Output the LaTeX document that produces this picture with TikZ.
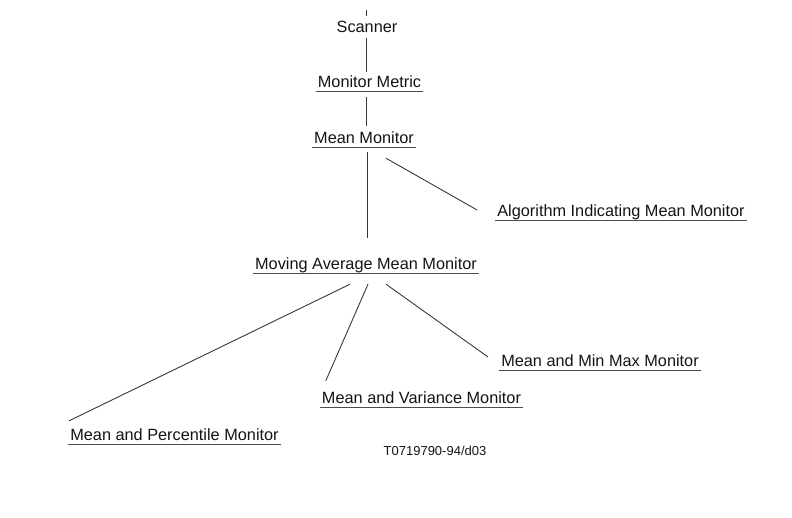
\documentclass[tikz,border=0pt]{standalone}
\usepackage{fontspec}
\setmainfont{Liberation Sans}
\usetikzlibrary{calc}
\begin{document}
\begin{tikzpicture}[x=1pt,y=-1pt,
  lbl/.style={font=\fontsize{16.3}{18}\selectfont, text=black!92, inner xsep=2pt, inner ysep=4pt, text height=12pt, text depth=0pt, anchor=base},
  ulline/.style={draw=black!70, line width=0.9pt},
  ul/.style={lbl, append after command={(\tikzlastnode.south west) edge[ulline] (\tikzlastnode.south east)}},
  conn/.style={draw=black!78, line width=0.9pt},
]
\useasboundingbox (0,0) rectangle (792,517);
\node[lbl] (scanner) at (367,32) {Scanner};
\node[ul] (metric) at (369.5,87) {Monitor Metric};
\node[ul] (mean) at (364,143) {Mean Monitor};
\node[ul] (alg) at (621,216) {Algorithm Indicating Mean Monitor};
\node[ul] (mam) at (366,269) {Moving Average Mean Monitor};
\node[ul] (minmax) at (600,366) {Mean and Min Max Monitor};
\node[ul] (var) at (421.5,403) {Mean and Variance Monitor};
\node[ul] (perc) at (174.5,440) {Mean and Percentile Monitor};
\node[lbl, font=\fontsize{13}{15}\selectfont, text height=10pt] (code) at (435,455) {T0719790-94/d03};
\coordinate (top) at (366,10);
\draw[conn] (top) -- (top |- scanner.north);
\draw[conn] ($(scanner.south)+(-1,2)$) -- ($(metric.north)+(-3.5,1)$);
\draw[conn] ($(metric.south)+(-3.5,6)$) -- ($(mean.north)+(2,-1)$);
\draw[conn] ($(mean.south)+(3,5)$) -- ($(mam.north)+(1,-15)$);
\draw[conn] ($(mean.south)+(22,11)$) -- ($(alg.west)+(-18,0)$);
\draw[conn] ($(mam.south)+(-16,11)$) -- ($(perc.north west)+(1,-3)$);
\draw[conn] ($(mam.south)+(2,11)$) -- ($(var.north west)+(6,-6)$);
\draw[conn] ($(mam.south)+(20,11)$) -- ($(minmax.west)+(-11,-3)$);
\end{tikzpicture}
\end{document}
